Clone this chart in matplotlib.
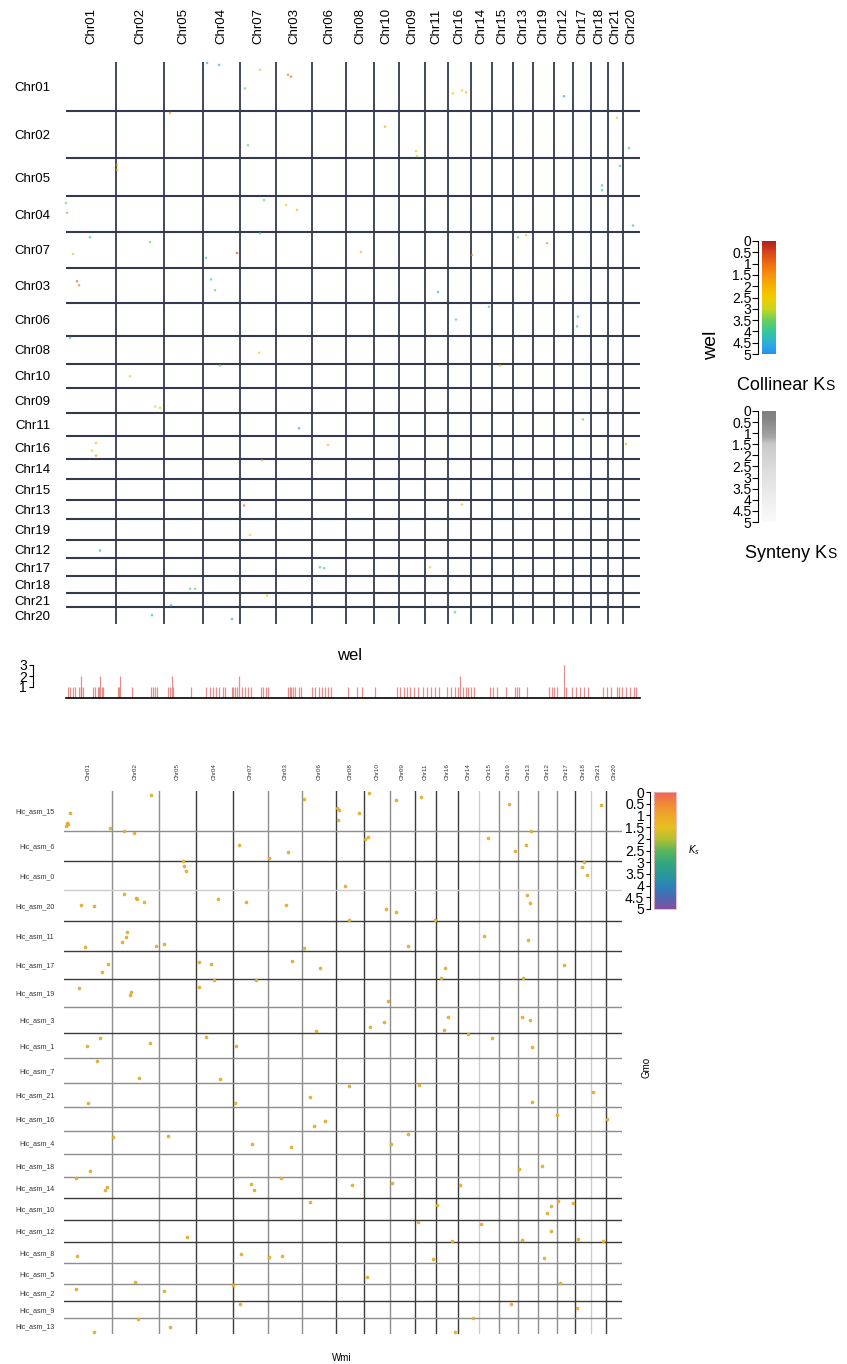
import numpy as np
import matplotlib
matplotlib.use('Agg')
import matplotlib.pyplot as plt
from matplotlib.colors import LinearSegmentedColormap

plt.rcParams['font.family'] = ['Liberation Sans', 'DejaVu Sans']

# ---------------- data: wel vs wel ----------------
wel_chroms = ['Chr01', 'Chr02', 'Chr05', 'Chr04', 'Chr07', 'Chr03', 'Chr06', 'Chr08', 'Chr10',
              'Chr09', 'Chr11', 'Chr16', 'Chr14', 'Chr15', 'Chr13', 'Chr19', 'Chr12', 'Chr17',
              'Chr18', 'Chr21', 'Chr20']
wel_lengths = [50, 48, 39, 37, 36, 36, 34, 28, 25, 26, 23, 23, 21, 21, 20, 21, 19, 18, 17, 15, 17]

wel_dot_x = [141, 153, 194, 222, 225, 179, 387, 396, 400, 498, 104, 319, 182, 350, 351, 551, 563, 554,
             536, 536, 51, 51, 0, 1, 198, 220, 231, 194, 567, 24, 84, 7, 140, 171, 145, 149, 11, 13,
             295, 452, 460, 481, 406, 372, 390, 423, 512, 511, 4, 193, 154, 64, 89, 94, 233, 30, 26,
             30, 262, 196, 178, 184, 34, 254, 258, 124, 129, 201, 105, 86, 166, 434, 396, 517, 560,
             389, 364]
wel_dot_y = [1, 3, 8, 13, 15, 27, 32, 29, 31, 35, 52, 66, 85, 91, 96, 57, 88, 106, 126, 131, 105, 110,
             144, 154, 141, 146, 151, 175, 167, 179, 184, 196, 200, 195, 222, 233, 224, 228, 194, 179,
             177, 185, 197, 235, 263, 250, 260, 270, 282, 297, 310, 321, 352, 353, 374, 389, 397, 402,
             391, 407, 453, 483, 499, 516, 517, 538, 538, 545, 555, 565, 569, 310, 452, 365, 390, 562,
             516]
wel_dot_ks = [4.5, 4.5, 3, 1.2, 1.0, 3.5, 2.2, 2.5, 2.0, 4.8, 1.5, 1.8, 3.5, 3, 3, 3, 3.8, 3.8, 4, 4,
              1.8, 2, 3.5, 3.5, 3.5, 2.5, 2.0, 3.9, 4, 4, 3.5, 3.0, 4, 0.5, 3.8, 3.5, 0.8, 1.2, 2.0,
              3.5, 3, 1.5, 1.5, 4.3, 3.8, 4, 4, 4, 4, 2.5, 3.5, 2.8, 3, 3, 4.8, 2, 2.5, 1.5, 2, 2.8,
              1.0, 2.5, 4.5, 4, 4, 3.5, 3.5, 2.5, 4.8, 4.5, 4.5, 2, 2, 3.5, 2, 4, 3]

hist_pos = [1.7, 4.1, 6.6, 9.1, 13.2, 14.5, 15.3, 16.6,
            26.5, 29.0, 31.5, 33.1, 34.4, 35.6, 36.8,
            51.7, 53.0, 54.2,
            66.2,
            85.3, 86.9, 88.6, 90.6,
            102.2, 104.3, 105.5, 106.8,
            125.0,
            140.3, 143.6, 146.5, 149.8, 153.1, 156.5, 159.3,
            165.6, 167.2, 168.9, 171.4, 173.0, 175.5, 178.8, 181.7, 184.6,
            194.5, 196.6, 199.5, 202.0,
            221.9, 223.5, 225.2, 226.8, 229.3, 232.6, 235.1,
            245.9, 249.2, 252.5, 255.8, 259.1, 262.4, 264.9,
            281.5,
            291.4, 295.5,
            309.2,
            331.1, 334.4, 337.7, 341.1, 344.4, 347.7, 351.8,
            356.8, 360.9, 365.1, 369.2,
            372.5,
            380.8, 384.9,
            389.1, 391.6, 394.1, 396.5, 399.8, 402.3, 404.8, 407.7,
            424.2, 427.1, 430.5,
            439.6,
            448.7, 450.7, 452.8,
            461.1,
            483.0, 485.9, 488.4, 491.3,
            498.3, 499.5,
            505.8, 509.9, 514.1, 518.2, 521.5,
            536.8, 540.9, 545.1, 551.3, 553.4, 555.5, 559.6, 563.7, 567.9, 569.9]
hist_count = [1, 1, 1, 1, 1, 1, 2, 1,
              1, 1, 1, 1, 2, 1, 1,
              1, 1, 2,
              1,
              1, 1, 1, 1,
              1, 1, 2, 1,
              1,
              1, 1, 1, 1, 1, 1, 1,
              1, 1, 1, 1, 2, 1, 1, 1, 1,
              1, 1, 1, 1,
              1, 1, 1, 1, 1, 1, 1,
              1, 1, 1, 1, 1, 1, 1,
              1,
              1, 1,
              1,
              1, 1, 1, 1, 1, 1, 1,
              1, 1, 1, 1,
              1,
              1, 1,
              1, 1, 2, 1, 1, 1, 1, 1,
              1, 1, 1,
              1,
              1, 1, 1,
              1,
              1, 1, 1, 1,
              3, 1,
              1, 1, 1, 1, 1,
              1, 1, 1, 1, 1, 1, 1, 1, 1, 1]

ks_ticks = [0, 0.5, 1, 1.5, 2, 2.5, 3, 3.5, 4, 4.5, 5]
ks_tick_labels = ['0', '0.5', '1', '1.5', '2', '2.5', '3', '3.5', '4', '4.5', '5']

# ---------------- data: Wmi vs Gmo ----------------
wmi_chroms = ['Chr01', 'Chr02', 'Chr05', 'Chr04', 'Chr07', 'Chr03', 'Chr06', 'Chr08', 'Chr10',
              'Chr09', 'Chr11', 'Chr16', 'Chr14', 'Chr15', 'Chr19', 'Chr13', 'Chr12', 'Chr17',
              'Chr18', 'Chr21', 'Chr20']
wmi_lengths = [48, 47, 37, 37, 35, 34, 34, 28, 26, 25, 21, 22, 21, 20, 19, 20, 19, 18, 16, 15, 16]
gmo_chroms = ['Hic_asm_15', 'Hic_asm_6', 'Hic_asm_0', 'Hic_asm_20', 'Hic_asm_11', 'Hic_asm_17',
              'Hic_asm_19', 'Hic_asm_3', 'Hic_asm_1', 'Hic_asm_7', 'Hic_asm_21', 'Hic_asm_16',
              'Hic_asm_4', 'Hic_asm_18', 'Hic_asm_14', 'Hic_asm_10', 'Hic_asm_12', 'Hic_asm_8',
              'Hic_asm_5', 'Hic_asm_2', 'Hic_asm_9', 'Hic_asm_13']
gmo_lengths = [40, 30, 29, 31, 30, 28, 28, 26, 25, 25, 24, 24, 23, 23, 21, 22, 22, 21, 21, 17, 17, 16]

gmo_dot_x = [87, 6, 3, 4, 2, 46, 60, 70, 175, 224, 205, 119, 120, 122, 60, 72, 73, 80, 17, 30,
             154, 182, 222, 63, 62, 58, 21, 92, 100, 44, 38, 135, 147, 228, 15, 67, 66, 135, 150, 192,
             36, 23, 86, 142, 172, 33, 75, 156, 24, 171, 49, 104, 188, 227, 26, 12, 43, 41, 187, 190,
             217, 123, 13, 177, 205, 218, 71, 12, 100, 169, 176, 74, 106, 30, 240, 273, 275, 274, 295, 305,
             332, 357, 445, 537, 301, 304, 424, 451, 462, 467, 520, 518, 523, 281, 463, 466, 322, 332, 285, 371,
             420, 464, 240, 344, 256, 381, 500, 377, 459, 324, 384, 458, 466, 306, 320, 380, 252, 404, 428, 468,
             285, 355, 246, 250, 261, 468, 529, 493, 543, 344, 327, 455, 478, 288, 328, 396, 246, 373, 487, 483,
             494, 509, 354, 417, 487, 388, 458, 514, 539, 369, 480, 303, 496, 447, 513, 409, 391]
gmo_dot_y = [4, 22, 32, 33, 35, 37, 40, 42, 54, 61, 67, 70, 75, 80, 103, 107, 108, 111, 114, 115,
             108, 111, 114, 141, 146, 151, 156, 155, 153, 173, 181, 171, 173, 170, 197, 201, 204, 196, 189, 189,
             247, 255, 252, 246, 255, 270, 287, 288, 312, 312, 346, 345, 353, 356, 380, 387, 396, 399, 393, 399,
             387, 446, 465, 463, 466, 465, 491, 498, 500, 494, 513, 528, 536, 541, 8, 17, 19, 29, 22, 2,
             9, 6, 13, 14, 48, 46, 47, 60, 54, 40, 71, 76, 84, 95, 104, 112, 118, 121, 129, 129,
             145, 149, 157, 155, 177, 177, 174, 187, 187, 210, 226, 226, 229, 236, 231, 239, 240, 243, 247, 256,
             295, 294, 306, 335, 330, 311, 301, 324, 328, 343, 353, 378, 375, 394, 392, 394, 411, 414, 415, 422,
             410, 412, 431, 433, 440, 450, 449, 448, 450, 468, 467, 486, 492, 513, 517, 527, 541]

# ---------------- styles ----------------
W, H = 847, 1364
DARK, GREY, LIGHT = '#3c3c3c', '#8e8e8e', '#cdcdcd'
bottom_vline_cols = [GREY, GREY, DARK, DARK, GREY, GREY, DARK, DARK, GREY, DARK,
                     DARK, DARK, LIGHT, GREY, GREY, GREY, GREY, DARK, LIGHT, DARK]
bottom_hline_cols = [GREY, DARK, LIGHT, DARK, DARK, DARK, GREY, DARK, GREY, GREY,
                     GREY, GREY, GREY, GREY, DARK, DARK, DARK, GREY, GREY, DARK, GREY]

collinear_cmap = LinearSegmentedColormap.from_list('collinear', [
    (0.0, '#b01e1e'), (0.1, '#d8461a'), (0.2, '#ee6c12'), (0.3, '#f59410'),
    (0.4, '#f6b300'), (0.5, '#f2cc00'), (0.6, '#c9d620'), (0.7, '#6ccf5a'),
    (0.8, '#36c79a'), (0.9, '#2fb0d8'), (1.0, '#2592f2')])
synteny_cmap = LinearSegmentedColormap.from_list('synteny', [
    (0.0, '#7e7e7e'), (0.08, '#858585'), (0.24, '#a5a5a5'), (0.3, '#c9c9c9'),
    (0.6, '#e2e2e2'), (1.0, '#fbfbfb')])
ks_cmap = LinearSegmentedColormap.from_list('ks', [
    (0.0, '#f0625c'), (0.1, '#f18a36'), (0.2, '#f0a82a'), (0.3, '#e6c022'),
    (0.4, '#b5c032'), (0.5, '#5db65a'), (0.6, '#35a87c'), (0.7, '#2a9a9a'),
    (0.8, '#2b85ba'), (0.9, '#4c69b3'), (1.0, '#8350a0')])


def box(x0, y0, x1, y1):
    return [x0 / W, 1 - y1 / H, (x1 - x0) / W, (y1 - y0) / H]


fig = plt.figure(figsize=(W / 100, H / 100), dpi=100)

# ================= top dot plot =================
ax1 = fig.add_axes(box(66, 62, 640, 624))
e1 = np.concatenate([[0], np.cumsum(wel_lengths)])
tot1 = e1[-1]
ax1.set_xlim(0, tot1)
ax1.set_ylim(tot1, 0)
for e in e1[1:-1]:
    ax1.axvline(e, color='#343a4b', lw=1.3, zorder=1)
    ax1.axhline(e, color='#343a4b', lw=1.5, zorder=1)
ax1.scatter(wel_dot_x, wel_dot_y, c=wel_dot_ks, cmap=collinear_cmap, vmin=0, vmax=5,
            s=3.5, marker='o', linewidths=0, alpha=0.65, zorder=3, clip_on=False)
c1 = (e1[:-1] + e1[1:]) / 2
ax1.xaxis.tick_top()
ax1.set_xticks(c1)
ax1.set_xticklabels(wel_chroms, rotation=90, fontsize=9.5)
ax1.set_yticks(c1)
ax1.set_yticklabels(wel_chroms, fontsize=9.5)
ax1.tick_params(axis='x', length=0, pad=13)
ax1.tick_params(axis='y', length=0, pad=11)
for s in ax1.spines.values():
    s.set_visible(False)

fig.text(712 / W, 1 - 345 / H, 'wel', rotation=90, ha='center', va='center', fontsize=14)

# ---- Ks colorbars ----
grad = np.linspace(0, 5, 256)[:, None]


def bar_axes(rect, cmap, fs, ticklen, pad, out):
    cax = fig.add_axes(rect)
    cax.imshow(grad, aspect='auto', cmap=cmap, vmin=0, vmax=5, extent=[0, 1, 5, 0])
    cax.set_xticks([])
    cax.set_yticks(ks_ticks)
    cax.set_yticklabels(ks_tick_labels, fontsize=fs, linespacing=0.8)
    cax.tick_params(axis='y', length=ticklen, width=0.8, pad=pad)
    for k in ['top', 'right', 'bottom']:
        cax.spines[k].set_visible(False)
    cax.spines['left'].set_position(('outward', out))
    cax.spines['left'].set_bounds(0, 5)
    cax.spines['left'].set_linewidth(0.8)
    cax.set_ylim(5, 0)
    return cax


bar_axes(box(762, 241, 776, 354), collinear_cmap, 8, 4, 0.5, 3)
fig.text(825 / W, 1 - 390 / H, 'Collinear K', ha='right', va='baseline', fontsize=13)
fig.text(825 / W, 1 - 390 / H, 'S', ha='left', va='baseline', fontsize=10)

bar_axes(box(762, 411, 776, 522), synteny_cmap, 8, 4, 0.5, 3)
fig.text(827 / W, 1 - 558 / H, 'Synteny K', ha='right', va='baseline', fontsize=13)
fig.text(827 / W, 1 - 558 / H, 'S', ha='left', va='baseline', fontsize=10)

# ---- histogram ----
axh = fig.add_axes(box(66, 659.5, 640, 698))
axh.vlines(hist_pos, 0, hist_count, color='#e06a6a', lw=0.9, alpha=0.75)
axh.set_xlim(0, tot1)
axh.set_ylim(0, 3.5)
axh.set_xticks([])
axh.set_yticks([1, 2, 3])
axh.set_yticklabels(['1', '2', '3'], fontsize=8)
axh.tick_params(axis='y', length=3, width=0.8, pad=1)
for k in ['top', 'right']:
    axh.spines[k].set_visible(False)
axh.spines['bottom'].set_linewidth(1.2)
axh.spines['left'].set_position(('outward', 24))
axh.spines['left'].set_bounds(1, 3)
axh.spines['left'].set_linewidth(0.8)
fig.text(350 / W, 1 - 656 / H, 'wel', ha='center', va='center', fontsize=12)

# ================= bottom dot plot =================
ax2 = fig.add_axes(box(64, 791, 622, 1334))
ex = np.concatenate([[0], np.cumsum(wmi_lengths)])
ey = np.concatenate([[0], np.cumsum(gmo_lengths)])
ax2.set_xlim(0, ex[-1])
ax2.set_ylim(ey[-1], 0)
for e, col in zip(ex[1:-1], bottom_vline_cols):
    ax2.axvline(e, color=col, lw=1.0, zorder=1)
for e, col in zip(ey[1:-1], bottom_hline_cols):
    ax2.axhline(e, color=col, lw=1.0, zorder=1)
ax2.scatter(gmo_dot_x, gmo_dot_y, s=5, marker='o', color='#eab53a', edgecolors='#d69c24',
            linewidths=0.3, zorder=3, clip_on=False)
ax2.xaxis.tick_top()
ax2.set_xticks((ex[:-1] + ex[1:]) / 2)
ax2.set_xticklabels(wmi_chroms, rotation=90, fontsize=4.5, color='#333333')
ax2.set_yticks((ey[:-1] + ey[1:]) / 2)
ax2.set_yticklabels(gmo_chroms, fontsize=5, color='#333333')
ax2.tick_params(axis='x', length=0, pad=8)
ax2.tick_params(axis='y', length=0, pad=7)
for s in ax2.spines.values():
    s.set_visible(False)

cax3 = bar_axes(box(654, 792, 676, 909), ks_cmap, 4.5, 3, 1, 3)
cax3.add_patch(plt.Rectangle((0, 0), 1, 5, fill=False, ec='#e9b6b6', lw=0.6, clip_on=False))
fig.text(688 / W, 1 - 850 / H, r'$K_s$', ha='left', va='center', fontsize=7)
fig.text(647 / W, 1 - 1067 / H, 'Gmo', rotation=90, ha='center', va='center', fontsize=7)
fig.text(342 / W, 1 - 1358 / H, 'Wmi', ha='center', va='center', fontsize=7)

fig.savefig('out.png', dpi=100, facecolor='white')
